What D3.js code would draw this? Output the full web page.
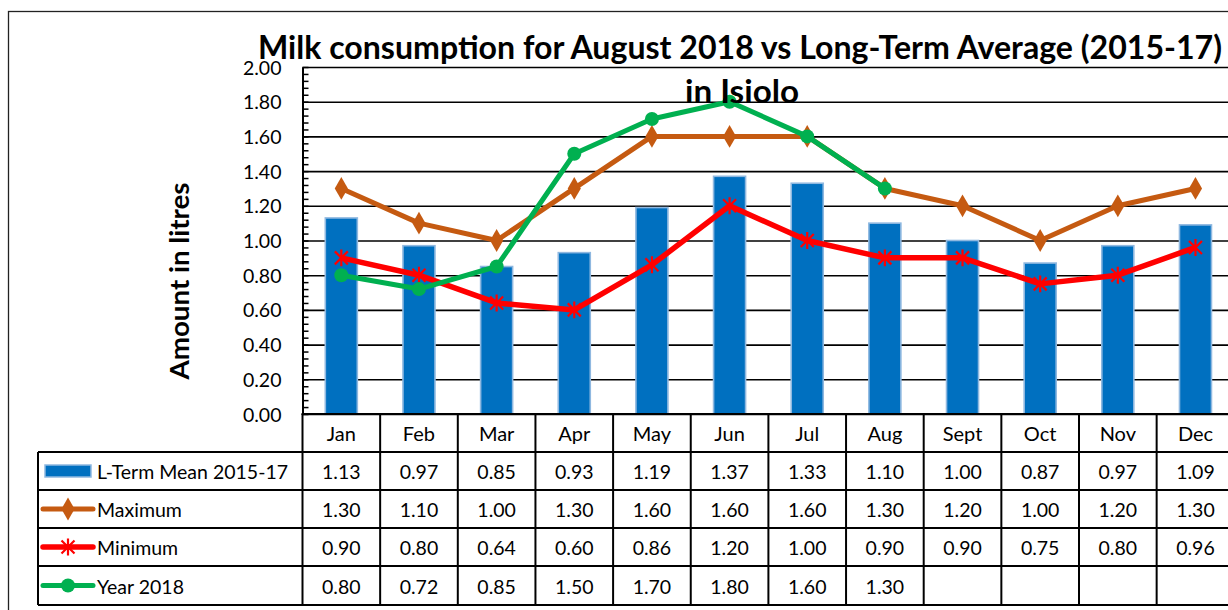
<!DOCTYPE html>
<html><head><meta charset="utf-8">
<script src="https://cdn.jsdelivr.net/npm/d3@7"></script>
<style>body{margin:0;background:#fff;overflow:hidden} svg{display:block} text{font-family:Lato, "Open Sans", sans-serif;fill:#000}</style>
</head><body><svg id="c" width="1228" height="610"></svg>
<script>
const months = ["Jan","Feb","Mar","Apr","May","Jun","Jul","Aug","Sept","Oct","Nov","Dec"];
const ltMean   = [1.13,0.97,0.85,0.93,1.19,1.37,1.33,1.10,1.00,0.87,0.97,1.09];
const maximum  = [1.30,1.10,1.00,1.30,1.60,1.60,1.60,1.30,1.20,1.00,1.20,1.30];
const minimum  = [0.90,0.80,0.64,0.60,0.86,1.20,1.00,0.90,0.90,0.75,0.80,0.96];
const year2018 = [0.80,0.72,0.85,1.50,1.70,1.80,1.60,1.30,null,null,null,null];
const yTicks = [0,0.2,0.4,0.6,0.8,1.0,1.2,1.4,1.6,1.8,2.0];
const seriesNames = ["L-Term Mean 2015-17","Maximum","Minimum","Year 2018"];
const titleLines = ["Milk consumption for August 2018 vs Long-Term Average (2015-17)","in Isiolo"];
const yLabel = "Amount in litres";

const svg = d3.select("#c");
const pLeft = 302.5, band = 77.65, pTop = 67, pBottom = 414;
const pRight = pLeft + band * 12;
const x = d3.scaleBand().domain(months).range([pLeft, pRight]);
const y = d3.scaleLinear().domain([0, 2]).range([pBottom, pTop]);
const cx = m => x(m) + x.bandwidth() / 2;

const C = {bar:"#0070C0", barEdge:"#8FB8E0", max:"#C55A11", min:"#FF0000", yr:"#00B050"};

// outer frame
svg.append("rect").attr("x",8.5).attr("y",11.5).attr("width",1260).attr("height",640)
  .attr("fill","#fff").attr("stroke","#222").attr("stroke-width",1.3);

// gridlines
svg.append("g").attr("transform",`translate(${pLeft},0)`)
  .call(d3.axisRight(y).tickValues(yTicks).tickSize(pRight-pLeft).tickFormat(""))
  .call(g=>{g.select(".domain").remove(); g.selectAll("line").attr("stroke","#000").attr("stroke-width",1.6);});

// minor ticks (inside)
const minor = d3.range(0, 2.0001, 0.04);
svg.append("g").attr("transform",`translate(${pLeft},0)`)
  .call(d3.axisRight(y).tickValues(minor).tickSize(6).tickFormat(""))
  .call(g=>{g.select(".domain").remove(); g.selectAll("line").attr("stroke","#000").attr("stroke-width",1.5);});

// y axis labels + line
svg.append("g").attr("transform",`translate(${pLeft},0)`)
  .call(d3.axisLeft(y).tickValues(yTicks).tickSize(0).tickPadding(21).tickFormat(d3.format(".2f")))
  .call(g=>{g.select(".domain").attr("stroke","#000").attr("stroke-width",2); g.selectAll("text").attr("font-size",19.5).attr("dy","0.36em").attr("font-family","Lato, sans-serif");});

// bars
svg.append("g").selectAll("rect").data(months).join("rect")
  .attr("x", m => cx(m) - 16).attr("width", 32)
  .attr("y", (m,i) => y(ltMean[i])).attr("height", (m,i) => y(0) - y(ltMean[i]))
  .attr("fill", C.bar).attr("stroke", C.barEdge).attr("stroke-width", 1.6);

// lines
const line = d3.line().defined(d => d.v != null).x(d => cx(d.m)).y(d => y(d.v));
function series(vals){ return months.map((m,i)=>({m, v: vals[i]})); }
const diamond = d3.symbol().type(d3.symbolDiamond).size(150);
function star(g, px, py, s){
  const p = `M${px-s},${py-s}L${px+s},${py+s}M${px-s},${py+s}L${px+s},${py-s}M${px},${py-s*1.3}L${px},${py+s*1.3}`;
  g.append("path").attr("d",p).attr("stroke",C.min).attr("stroke-width",2.2).attr("fill","none");
}

svg.append("path").datum(series(maximum)).attr("d", line).attr("fill","none").attr("stroke",C.max).attr("stroke-width",5).attr("stroke-linejoin","round");
svg.append("g").selectAll("path").data(series(maximum)).join("path")
  .attr("transform", d => `translate(${cx(d.m)},${y(d.v)})`).attr("d", diamond).attr("fill", C.max);

svg.append("path").datum(series(minimum)).attr("d", line).attr("fill","none").attr("stroke",C.min).attr("stroke-width",5.5).attr("stroke-linejoin","round");
const minG = svg.append("g");
series(minimum).forEach(d => star(minG, cx(d.m), y(d.v), 6.5));

svg.append("path").datum(series(year2018)).attr("d", line).attr("fill","none").attr("stroke",C.yr).attr("stroke-width",5).attr("stroke-linejoin","round");
svg.append("g").selectAll("circle").data(series(year2018).filter(d=>d.v!=null)).join("circle")
  .attr("cx", d => cx(d.m)).attr("cy", d => y(d.v)).attr("r", 7).attr("fill", C.yr);

// data table
const rowY = [414, 452, 490, 528, 566, 605];
const tg = svg.append("g");
const tl = (x1,y1,x2,y2) => tg.append("line").attr("x1",x1).attr("y1",y1).attr("x2",x2).attr("y2",y2).attr("stroke","#000").attr("stroke-width",2);
tl(pLeft-1, 414, pRight, 414);
rowY.slice(1).forEach(ry => tl(38, ry, pRight, ry));
months.forEach(m => tl(x(m), 414, x(m), 605));
tl(pRight, 414, pRight, 605);
tl(38, 452, 38, 605);

tg.selectAll("text.cat").data(months).join("text").attr("class","cat")
  .attr("x", cx).attr("y", 434).attr("dy","0.36em").attr("text-anchor","middle").attr("font-size",20).text(d=>d);

const allVals = [ltMean, maximum, minimum, year2018];
allVals.forEach((vals, r) => {
  const ym = (rowY[r+1] + rowY[r+2]) / 2 + 1;
  tg.selectAll(null).data(months).join("text")
    .attr("x", cx).attr("y", ym).attr("dy","0.36em").attr("text-anchor","middle").attr("font-size",19.5)
    .text((m,i) => vals[i] == null ? "" : vals[i].toFixed(2));
  tg.append("text").attr("x", 97).attr("y", ym).attr("dy","0.36em").attr("font-size",19.5).text(seriesNames[r]);
});

// legend keys
const k0 = (rowY[1]+rowY[2])/2;
tg.append("rect").attr("x",45).attr("y",k0-6).attr("width",46).attr("height",12).attr("fill",C.bar).attr("stroke",C.barEdge).attr("stroke-width",1.5);
const k1 = (rowY[2]+rowY[3])/2, k2 = (rowY[3]+rowY[4])/2, k3 = (rowY[4]+rowY[5])/2;
tg.append("line").attr("x1",43).attr("x2",93).attr("y1",k1).attr("y2",k1).attr("stroke",C.max).attr("stroke-width",5).attr("stroke-linecap","round");
tg.append("path").attr("transform",`translate(68,${k1})`).attr("d",diamond).attr("fill",C.max);
tg.append("line").attr("x1",43).attr("x2",93).attr("y1",k2).attr("y2",k2).attr("stroke",C.min).attr("stroke-width",5.5).attr("stroke-linecap","round");
star(tg, 68, k2, 6.5);
tg.append("line").attr("x1",43).attr("x2",93).attr("y1",k3).attr("y2",k3).attr("stroke",C.yr).attr("stroke-width",5).attr("stroke-linecap","round");
tg.append("circle").attr("cx",68).attr("cy",k3).attr("r",7).attr("fill",C.yr);

// title
svg.append("text").attr("x",740).attr("y",59).attr("text-anchor","middle").attr("font-size",32).attr("font-weight","bold")
  .attr("textLength",964).attr("lengthAdjust","spacingAndGlyphs").text(titleLines[0]);
svg.append("text").attr("x",742).attr("y",103).attr("text-anchor","middle").attr("font-size",32).attr("font-weight","bold")
  .attr("textLength",114).attr("lengthAdjust","spacingAndGlyphs").text(titleLines[1]);

// y label
svg.append("text").attr("transform","translate(189,281) rotate(-90)").attr("text-anchor","middle")
  .attr("font-size",27).attr("font-weight","bold").attr("textLength",197).attr("lengthAdjust","spacingAndGlyphs").text(yLabel);
</script></body></html>
